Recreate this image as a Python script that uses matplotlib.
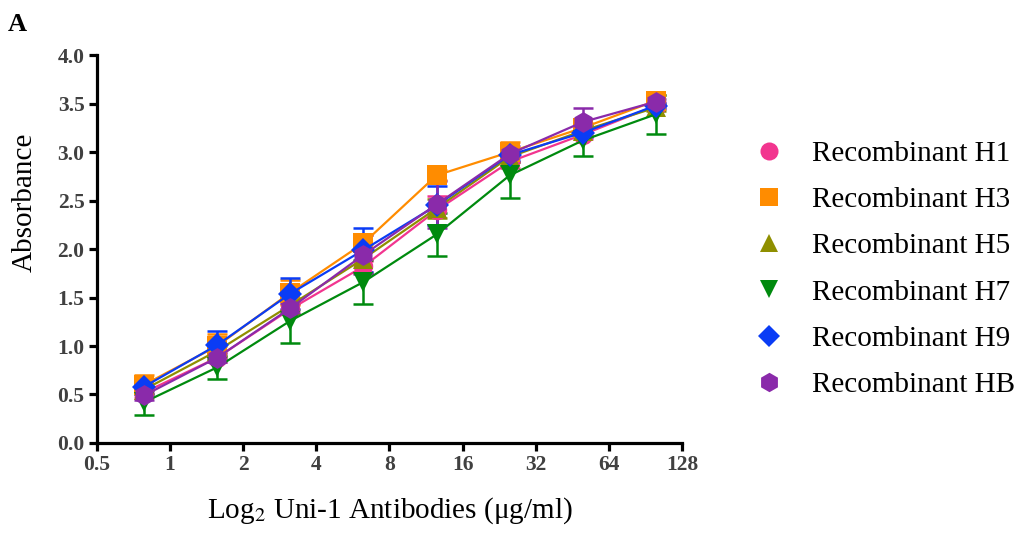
import numpy as np
import matplotlib
matplotlib.use("Agg")
import matplotlib.pyplot as plt

plt.rcParams['font.family'] = ['Liberation Serif', 'DejaVu Serif']
plt.rcParams['mathtext.fontset'] = 'stix'

# antibody concentrations (ug/ml)
conc = [0.78125, 1.5625, 3.125, 6.25, 12.5, 25, 50, 100]

labels = ['Recombinant H1', 'Recombinant H3', 'Recombinant H5',
          'Recombinant H7', 'Recombinant H9', 'Recombinant HB']

h1 = [0.52, 0.88, 1.38, 1.82, 2.40, 2.90, 3.18, 3.48]
h3 = [0.60, 1.00, 1.55, 2.06, 2.76, 3.00, 3.25, 3.53]
h5 = [0.55, 0.95, 1.42, 1.90, 2.42, 2.95, 3.22, 3.46]
h7 = [0.42, 0.78, 1.26, 1.66, 2.15, 2.76, 3.12, 3.39]
h9 = [0.58, 1.01, 1.54, 1.99, 2.45, 2.97, 3.20, 3.48]
hb = [0.49, 0.88, 1.39, 1.94, 2.46, 2.98, 3.31, 3.52]

h1_err = [0.05, 0.05, 0.05, 0.06, 0.15, 0.06, 0.05, 0.04]
h3_err = [0.10, 0.12, 0.13, 0.08, 0.05, 0.10, 0.05, 0.06]
h5_err = [0.05, 0.05, 0.05, 0.15, 0.10, 0.05, 0.05, 0.04]
h7_err = [0.13, 0.12, 0.23, 0.23, 0.22, 0.23, 0.16, 0.20]
h9_err = [0.08, 0.14, 0.16, 0.23, 0.20, 0.05, 0.04, 0.03]
hb_err = [0.05, 0.05, 0.05, 0.20, 0.24, 0.08, 0.14, 0.03]

series = [h1, h3, h5, h7, h9, hb]
errors = [h1_err, h3_err, h5_err, h7_err, h9_err, hb_err]
colors = ['#F2358F', '#FF8C00', '#8F8F00', '#008A0E', '#0A3CF5', '#8A2AAA']
markers = ['o', 's', '^', 'v', 'D', 'h']
msizes = [14, 14, 14, 14, 12, 15]

xticks = [0.5, 1, 2, 4, 8, 16, 32, 64, 128]
yticks = [0.0, 0.5, 1.0, 1.5, 2.0, 2.5, 3.0, 3.5, 4.0]

fig = plt.figure(figsize=(10.24, 5.35), dpi=100)
ax = fig.add_axes([0.0947, 0.172, 0.5713, 0.725])

handles = []
for y, e, c, m, ms, lab in zip(series, errors, colors, markers, msizes, labels):
  line, caps, bars = ax.errorbar(conc, y, yerr=e, color=c, marker=m, markersize=ms,
                                 linewidth=1.6, elinewidth=1.8,
                                 capsize=7, capthick=1.8, label=lab)
  line.set_markeredgewidth(0)
  h, = ax.plot([], [], linestyle='None', marker=m, color=c,
               markersize=ms - 1, markeredgewidth=0)
  handles.append(h)

ax.set_xscale('log', base=2)
ax.set_xlim(0.5, 128)
ax.set_ylim(0, 4.0)
ax.set_xticks(xticks)
ax.set_xticklabels(['0.5', '1', '2', '4', '8', '16', '32', '64', '128'])
ax.set_xticks([], minor=True)
ax.set_yticks(yticks)
ax.set_yticklabels(['%.1f' % v for v in yticks])

for sp in ['top', 'right']:
  ax.spines[sp].set_visible(False)
for sp in ['left', 'bottom']:
  ax.spines[sp].set_linewidth(2.3)
ax.tick_params(axis='both', which='major', direction='out', length=6,
               width=2.3, labelsize=15.5, labelcolor='#404040', pad=3)
for t in ax.get_xticklabels() + ax.get_yticklabels():
  t.set_fontweight('bold')

ax.set_ylabel('Absorbance', fontsize=21)
ax.yaxis.set_label_coords(-0.1005, 0.621)
ax.set_xlabel('Log$_2$ Uni-1 Antibodies (\u03bcg/ml)', fontsize=21, labelpad=14)

fig.text(0.008, 0.955, 'A', fontsize=19, fontweight='bold', va='center')

fig.legend(handles, labels, loc='center left', bbox_to_anchor=(0.725, 0.4965),
           frameon=False, fontsize=21, handlelength=1.0, handletextpad=1.0,
           labelspacing=0.68, borderaxespad=0)

fig.savefig('out.png', dpi=100)
